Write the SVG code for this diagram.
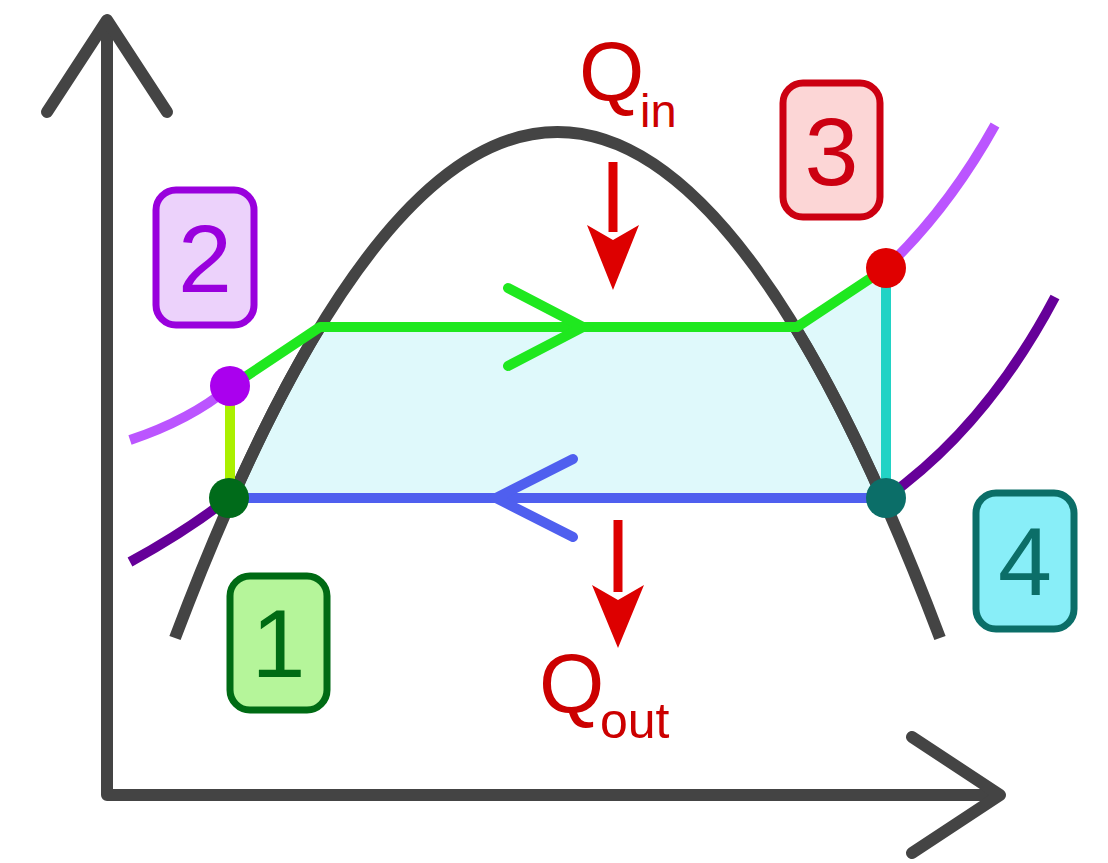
<svg xmlns="http://www.w3.org/2000/svg" width="1108" height="863" viewBox="0 0 1108 863">
<style>
.axis{fill:none;stroke:#444;stroke-width:12;stroke-linecap:round;stroke-linejoin:round}
.dome{fill:none;stroke:#444;stroke-width:12;stroke-linecap:butt}
.ln{fill:none;stroke-width:10;stroke-linecap:butt;stroke-linejoin:round}
.chev{fill:none;stroke-width:10;stroke-linecap:round;stroke-linejoin:miter}
.box{stroke-width:7}
.dig{font-family:"Liberation Sans",Arial,sans-serif;font-size:97px;text-anchor:middle}
.q{font-family:"Liberation Sans",Arial,sans-serif;fill:#cc0000}
</style>
<defs>
<clipPath id="mid"><rect x="0" y="327" width="1108" height="171"/></clipPath>
</defs>
<rect width="1108" height="863" fill="#fff"/>
<path id="fill" d="M231,498 Q275.5,400.4 320,327 L797,327 L886,268 L886,498 Z" fill="#dff9fb"/>
<g id="axes">
<path class="axis" d="M107,24 L107,795 L994,795"/>
<path class="axis" d="M47,112 L107,20 L167,112"/>
<path class="axis" d="M912,737 L1000,795 L912,853"/>
</g>
<g id="saturation-dome">
<path class="dome" d="M175,638 Q557.5,-374 940,638"/>
<path class="dome" d="M175,638 Q557.5,-374 940,638" stroke="#4d6767" clip-path="url(#mid)"/>
</g>
<g id="isobars">
<path class="ln" stroke="#bb55ff" d="M130,440 Q190,420 230,387"/>
<path class="ln" stroke="#bb55ff" d="M886,268 Q948.6,208.5 995,125"/>
<path class="ln" stroke="#660099" d="M130,562 Q185,532 229,498"/>
<path class="ln" stroke="#660099" d="M886,498 Q987,426 1055,297"/>
</g>
<g id="connectors">
<path id="c12" class="ln" stroke="#aaf000" d="M230,387 L230,498"/>
<path id="c23" class="ln" stroke="#1fe81f" d="M230,387 L320,327 L797,327 L886,268"/>
<path class="chev" stroke="#1fe81f" d="M508,288 L583,327 L508,366"/>
<path id="c34" class="ln" stroke="#22d3c5" d="M886,268 L886,498"/>
<path id="c41" class="ln" stroke="#4f5fef" d="M886,498 L230,498"/>
<path class="chev" stroke="#4f5fef" d="M573,459 L496,498 L573,537"/>
</g>
<g id="point-1"><circle cx="229" cy="498" r="20" fill="#006b1a"/></g>
<g id="point-2"><circle cx="230" cy="386" r="20" fill="#aa00ee"/></g>
<g id="point-3"><circle cx="886" cy="268" r="20" fill="#e00000"/></g>
<g id="point-4"><circle cx="886" cy="498" r="20" fill="#0b6e68"/></g>
<g id="label-1">
<rect class="box" x="230" y="576" width="97" height="134" rx="20" fill="#b5f59a" stroke="#006b14"/>
<text class="dig" x="278.5" y="677" fill="#006b14">1</text>
</g>
<g id="label-2">
<rect class="box" x="156" y="190" width="98" height="135" rx="20" fill="#ecd2fb" stroke="#9900dd"/>
<text class="dig" x="205" y="292" fill="#9900dd">2</text>
</g>
<g id="label-3">
<rect class="box" x="783" y="83" width="97" height="134" rx="20" fill="#fcd6d6" stroke="#cc0011"/>
<text class="dig" x="831.5" y="185" fill="#cc0011">3</text>
</g>
<g id="label-4">
<rect class="box" x="976" y="493" width="98" height="136" rx="20" fill="#88eef8" stroke="#0b6e68"/>
<text class="dig" x="1025" y="595" fill="#0b6e68">4</text>
</g>
<g id="q-in">
<text class="q" x="579" y="100" font-size="84">Q</text>
<text class="q" x="640" y="127" font-size="47">in</text>
<path d="M613,162 L613,232" stroke="#dd0000" stroke-width="9"/>
<polygon points="587,225 613,240 639,225 613,290" fill="#dd0000"/>
</g>
<g id="q-out">
<path d="M618,520 L618,592" stroke="#dd0000" stroke-width="9"/>
<polygon points="592,585 618,600 644,585 618,648" fill="#dd0000"/>
<text class="q" x="539" y="712" font-size="84">Q</text>
<text class="q" x="600" y="738" font-size="50">out</text>
</g>
</svg>
